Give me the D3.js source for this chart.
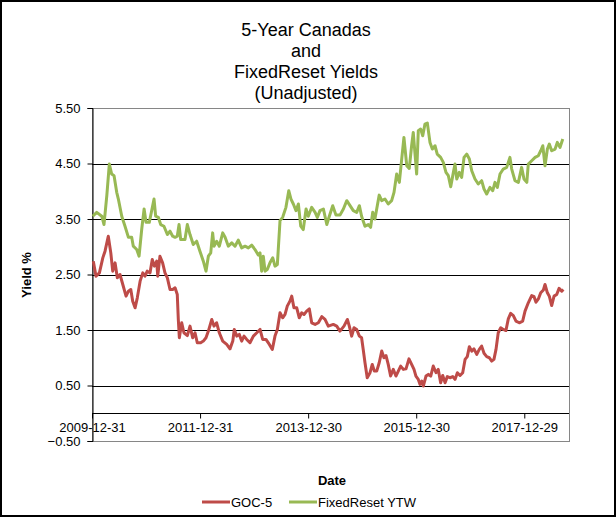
<!DOCTYPE html>
<html>
<head>
<meta charset="utf-8">
<script src="https://cdn.jsdelivr.net/npm/d3@7"></script>
<style>
  body { margin: 0; background: #fff; }
  svg { display: block; font-family: "Liberation Sans", Arial, sans-serif; }
</style>
</head>
<body>
<script>
// ---- data ----
const titleLines = ["5-Year Canadas", "and", "FixedReset Yields", "(Unadjusted)"];
const seriesNames = ["GOC-5", "FixedReset YTW"];
const yTicks = [-0.5, 0.5, 1.5, 2.5, 3.5, 4.5, 5.5];
const xTickDates = ["2009-12-31", "2011-12-31", "2013-12-30", "2015-12-30", "2017-12-29"];
const xDomain = ["2009-12-31", "2018-10-27"];

const gocDates = [
  "2010-01-09","2010-01-27","2010-02-19","2010-03-14","2010-03-29","2010-04-20","2010-05-07","2010-05-20",
  "2010-06-05","2010-06-20","2010-07-08","2010-07-27","2010-08-18","2010-09-03","2010-09-19","2010-10-02",
  "2010-10-18","2010-11-02","2010-11-21","2010-12-09","2010-12-24",
  "2011-01-08","2011-01-27","2011-02-11","2011-02-25","2011-03-13","2011-03-20","2011-04-04","2011-04-22",
  "2011-05-08","2011-05-24","2011-06-11","2011-06-29","2011-07-15","2011-07-30","2011-08-06","2011-08-13",
  "2011-08-29","2011-09-13","2011-10-06","2011-10-24","2011-11-11","2011-11-27","2011-12-12",
  "2012-01-04","2012-01-22","2012-02-09","2012-02-25","2012-03-19","2012-04-03","2012-04-21","2012-05-09",
  "2012-06-01","2012-06-28","2012-07-20","2012-08-08","2012-08-18","2012-09-04","2012-09-21","2012-10-07",
  "2012-10-23","2012-11-10","2012-12-02","2012-12-25",
  "2013-01-17","2013-02-08","2013-02-26","2013-03-20","2013-04-12","2013-05-02","2013-05-20","2013-06-05",
  "2013-06-23","2013-07-11","2013-07-27","2013-08-11","2013-08-29","2013-09-10","2013-09-25","2013-10-14",
  "2013-10-31","2013-11-16","2013-12-02","2013-12-20",
  "2014-01-07","2014-01-23","2014-02-15","2014-03-09","2014-04-01","2014-04-23","2014-05-15","2014-06-18",
  "2014-07-11","2014-08-02","2014-08-29","2014-09-21","2014-10-04","2014-10-20","2014-11-05","2014-11-23",
  "2014-12-11","2014-12-26",
  "2015-01-06","2015-01-18","2015-02-02","2015-02-21","2015-03-08","2015-03-22","2015-04-07","2015-04-24",
  "2015-05-11","2015-05-26","2015-06-09","2015-06-24","2015-07-10","2015-07-28","2015-08-15","2015-08-31",
  "2015-09-16","2015-10-04","2015-10-22","2015-11-11","2015-11-29","2015-12-15","2015-12-28",
  "2016-01-13","2016-01-25","2016-02-05","2016-02-16","2016-03-05","2016-03-21","2016-04-06","2016-04-23",
  "2016-05-12","2016-05-27","2016-06-12","2016-06-26","2016-07-12","2016-07-27","2016-08-14","2016-09-02",
  "2016-09-17","2016-10-03","2016-10-21","2016-11-08","2016-11-24","2016-12-09","2016-12-23",
  "2017-01-08","2017-01-23","2017-02-11","2017-02-28","2017-03-16","2017-04-01","2017-04-19","2017-05-07",
  "2017-05-23","2017-06-07","2017-06-21","2017-07-06","2017-07-23","2017-08-09","2017-08-27","2017-09-12",
  "2017-09-28","2017-10-16","2017-11-03","2017-11-25","2017-12-18",
  "2018-01-03","2018-01-25","2018-02-17","2018-03-05","2018-03-18","2018-04-03","2018-04-19","2018-05-07",
  "2018-05-18","2018-06-03","2018-06-16","2018-07-02","2018-07-18","2018-08-05","2018-08-21","2018-09-08",
  "2018-09-19"
];
const gocValues = [
  2.74,2.47,2.53,2.80,2.92,3.19,2.89,2.56,
  2.71,2.44,2.50,2.32,2.11,2.20,2.23,2.02,
  1.90,2.08,2.38,2.53,2.47,
  2.56,2.53,2.77,2.65,2.74,2.47,2.83,2.71,
  2.53,2.44,2.23,2.23,2.26,2.14,1.69,1.36,
  1.63,1.45,1.40,1.57,1.36,1.45,1.27,
  1.27,1.30,1.36,1.48,1.69,1.57,1.63,1.45,
  1.30,1.24,1.16,1.30,1.51,1.39,1.42,1.30,
  1.39,1.33,1.27,1.39,
  1.45,1.51,1.33,1.33,1.24,1.15,1.39,1.51,
  1.81,1.72,1.78,1.93,2.02,2.11,1.90,1.90,
  1.72,1.81,1.78,1.84,
  1.88,1.63,1.60,1.63,1.74,1.69,1.57,1.60,
  1.57,1.48,1.57,1.69,1.57,1.39,1.54,1.51,
  1.39,1.36,
  1.15,0.91,0.64,0.73,0.88,0.76,0.76,0.91,
  1.12,1.00,1.04,0.88,0.67,0.79,0.67,0.76,
  0.85,0.79,0.80,0.98,0.88,0.79,0.67,
  0.61,0.52,0.58,0.49,0.67,0.70,0.67,0.85,
  0.73,0.79,0.55,0.68,0.55,0.66,0.64,0.66,
  0.61,0.73,0.68,0.73,0.97,1.02,1.20,
  1.12,1.16,1.06,1.15,1.21,1.08,1.02,1.00,
  0.94,0.97,1.15,1.45,1.54,1.51,1.49,1.70,
  1.80,1.76,1.66,1.63,1.66,
  1.84,1.99,2.12,2.10,2.00,2.06,2.17,2.22,
  2.32,2.17,2.11,1.94,2.11,2.14,2.25,2.20,
  2.23
];

const ytwDates = [
  "2010-01-05","2010-02-01","2010-03-07","2010-03-22","2010-04-10","2010-04-27","2010-05-13","2010-05-29",
  "2010-06-16","2010-06-27","2010-07-20","2010-08-11","2010-09-03","2010-09-25","2010-10-06","2010-10-29",
  "2010-11-14","2010-12-02","2010-12-18","2010-12-31",
  "2011-01-22","2011-02-07","2011-02-23","2011-03-06","2011-03-24","2011-04-09","2011-05-01","2011-05-24",
  "2011-06-11","2011-06-29","2011-07-15","2011-07-30","2011-08-11","2011-08-22","2011-09-20","2011-10-06",
  "2011-10-24","2011-11-15","2011-12-08","2011-12-30",
  "2012-01-22","2012-02-09","2012-02-25","2012-03-12","2012-03-25","2012-04-03","2012-04-21","2012-05-09",
  "2012-06-01","2012-06-17","2012-07-09","2012-08-01","2012-08-23","2012-09-14","2012-10-07","2012-10-30",
  "2012-11-21","2012-12-14",
  "2013-01-05","2013-01-27","2013-02-08","2013-02-19","2013-03-02","2013-03-14","2013-03-29","2013-04-16",
  "2013-05-05","2013-05-20","2013-06-05","2013-06-23","2013-07-11","2013-08-02","2013-08-21","2013-09-05",
  "2013-09-21","2013-10-09","2013-10-25","2013-11-10","2013-11-27","2013-12-16","2013-12-31",
  "2014-01-23","2014-02-15","2014-03-02","2014-03-20","2014-04-12","2014-05-05","2014-05-22","2014-06-14",
  "2014-07-06","2014-08-02","2014-08-25","2014-09-17","2014-10-09","2014-10-31","2014-11-23","2014-12-11",
  "2014-12-26",
  "2015-01-18","2015-02-09","2015-02-25","2015-03-11","2015-03-26","2015-04-11","2015-04-24","2015-05-11",
  "2015-06-02","2015-06-24","2015-07-17","2015-08-02","2015-08-20","2015-09-07","2015-09-23","2015-10-08",
  "2015-10-27","2015-11-13","2015-11-29","2015-12-10","2015-12-22",
  "2016-01-02","2016-01-13","2016-01-29","2016-02-12","2016-02-27","2016-03-14","2016-04-01","2016-04-17",
  "2016-05-05","2016-05-20","2016-06-12","2016-06-30","2016-07-18","2016-08-03","2016-08-19","2016-09-06",
  "2016-09-17","2016-09-29","2016-10-16","2016-11-01","2016-11-17","2016-12-05","2016-12-23",
  "2017-01-08","2017-01-30","2017-02-21","2017-03-16","2017-04-01","2017-04-19","2017-05-11","2017-05-30",
  "2017-06-14","2017-06-30","2017-07-18","2017-08-09","2017-09-01","2017-09-23","2017-10-05","2017-10-27",
  "2017-11-19","2017-12-11","2017-12-27",
  "2018-01-15","2018-01-25","2018-02-17","2018-03-12","2018-04-03","2018-04-19","2018-05-03","2018-05-18",
  "2018-06-03","2018-06-16","2018-07-02","2018-07-25","2018-08-09","2018-08-27","2018-09-15"
];
const ytwValues = [
  3.55,3.62,3.55,3.40,3.92,4.49,4.31,4.28,
  3.98,3.86,3.55,3.37,3.17,3.17,3.01,2.95,
  2.83,3.32,3.68,3.44,
  3.44,3.65,3.86,3.55,3.53,3.40,3.37,3.22,
  3.28,3.19,3.17,3.19,3.40,3.13,3.13,3.40,
  3.22,3.04,3.10,2.92,
  2.74,2.56,2.83,2.89,3.25,3.01,3.10,3.01,
  3.25,3.17,3.01,3.07,3.01,3.12,2.98,3.01,
  2.98,3.03,
  2.95,2.85,2.89,2.56,2.83,2.56,2.59,2.71,
  2.80,2.65,2.68,3.47,3.53,3.71,4.01,3.86,
  3.77,3.65,3.77,3.37,3.31,3.68,3.55,
  3.71,3.62,3.53,3.65,3.68,3.40,3.55,3.74,
  3.57,3.57,3.68,3.83,3.74,3.65,3.62,3.74,
  3.55,
  3.37,3.40,3.35,3.62,3.50,3.74,3.93,3.83,
  3.86,3.77,3.83,3.98,4.31,4.16,4.58,4.97,
  4.46,4.41,4.82,5.06,4.67,
  4.31,5.09,5.12,5.00,5.21,5.23,4.88,4.76,
  4.82,4.67,4.61,4.52,4.34,4.28,4.08,4.34,
  4.49,4.22,4.34,4.25,4.61,4.67,4.58,
  4.37,4.22,4.13,4.19,4.04,3.95,4.07,4.01,
  4.16,4.07,4.31,4.40,4.43,4.61,4.40,4.19,
  4.16,4.43,4.22,
  4.16,4.49,4.55,4.61,4.64,4.73,4.82,4.46,
  4.76,4.85,4.73,4.76,4.88,4.79,4.94
];

const seriesColors = ["#BE4B48", "#98B954"];

// ---- drawing ----
const W = 616, H = 517;
const parse = d3.timeParse("%Y-%m-%d");
const fmt = d3.timeFormat("%Y-%m-%d");
const font = "13px";

const svg = d3.select("body").append("svg").attr("width", W).attr("height", H);
svg.append("rect").attr("width", W).attr("height", H).attr("fill", "#fff");

const plot = { left: 92, right: 569, top: 108, bottom: 441 };

const x = d3.scaleTime().domain(xDomain.map(parse)).range([plot.left, plot.right]);
const y = d3.scaleLinear().domain([-0.5, 5.5]).range([plot.bottom, plot.top]);

// plot area border
svg.append("rect")
  .attr("x", plot.left + 0.5).attr("y", plot.top + 0.5)
  .attr("width", plot.right - plot.left).attr("height", plot.bottom - plot.top)
  .attr("fill", "none").attr("stroke", "#868686");

// gridlines
svg.append("g").selectAll("line")
  .data(yTicks.filter(d => d > -0.5 && d < 5.5))
  .enter().append("line")
  .attr("x1", plot.left).attr("x2", plot.right)
  .attr("y1", d => Math.round(y(d)) + 0.5).attr("y2", d => Math.round(y(d)) + 0.5)
  .attr("stroke", "#000");

// y axis
const yAxis = svg.append("g")
  .attr("transform", "translate(" + (plot.left + 0.5) + ",0)")
  .call(d3.axisLeft(y).tickValues(yTicks).tickFormat(d3.format(".2f")).tickSize(5).tickPadding(7));

// x axis sits at value 0
const xAxis = svg.append("g")
  .attr("transform", "translate(0," + (Math.round(y(0)) + 0.5) + ")")
  .call(d3.axisBottom(x).tickValues(xTickDates.map(parse)).tickFormat(fmt).tickSize(5).tickPadding(4));

[yAxis, xAxis].forEach(function(a) {
  a.select(".domain").attr("stroke", "#000");
  a.selectAll(".tick line").attr("stroke", "#000");
  a.selectAll(".tick text").attr("fill", "#000")
    .style("font-size", font).style("font-family", '"Liberation Sans", Arial, sans-serif');
});
xAxis.select(".domain").attr("d", "M" + plot.left + ",0H" + plot.right);
xAxis.selectAll(".tick text").attr("dy", "0.75em");

// series
const line = d3.line()
  .x(d => x(d.date))
  .y(d => y(d.value));

const series = [
  gocDates.map((d, i) => ({ date: parse(d), value: gocValues[i] })),
  ytwDates.map((d, i) => ({ date: parse(d), value: ytwValues[i] }))
];

svg.append("g").selectAll("path")
  .data(series)
  .enter().append("path")
  .attr("d", line)
  .attr("fill", "none")
  .attr("stroke", (d, i) => seriesColors[i])
  .attr("stroke-width", 3)
  .attr("stroke-linejoin", "round");

// title
svg.append("g").selectAll("text")
  .data(titleLines)
  .enter().append("text")
  .attr("x", 306).attr("y", (d, i) => 36 + i * 21)
  .attr("text-anchor", "middle")
  .style("font-size", "18px")
  .text(d => d);

// axis titles
svg.append("text")
  .attr("transform", "translate(31,275) rotate(-90)")
  .attr("text-anchor", "middle")
  .style("font-size", font).style("font-weight", "bold")
  .text("Yield %");

svg.append("text")
  .attr("x", 332).attr("y", 485)
  .attr("text-anchor", "middle")
  .style("font-size", font).style("font-weight", "bold")
  .text("Date");

// legend
const legendX = [202, 289];
const leg = svg.append("g").selectAll("g")
  .data(seriesNames)
  .enter().append("g")
  .attr("transform", (d, i) => "translate(" + legendX[i] + ",502)");
leg.append("line")
  .attr("x1", 0).attr("x2", 28)
  .attr("stroke", (d, i) => seriesColors[i])
  .attr("stroke-width", 3);
leg.append("text")
  .attr("x", 29).attr("y", 4.5)
  .style("font-size", font)
  .text(d => d);

// chart border
svg.append("rect")
  .attr("x", 1).attr("y", 1).attr("width", W - 2).attr("height", H - 2)
  .attr("fill", "none").attr("stroke", "#000").attr("stroke-width", 2);
</script>
</body>
</html>
